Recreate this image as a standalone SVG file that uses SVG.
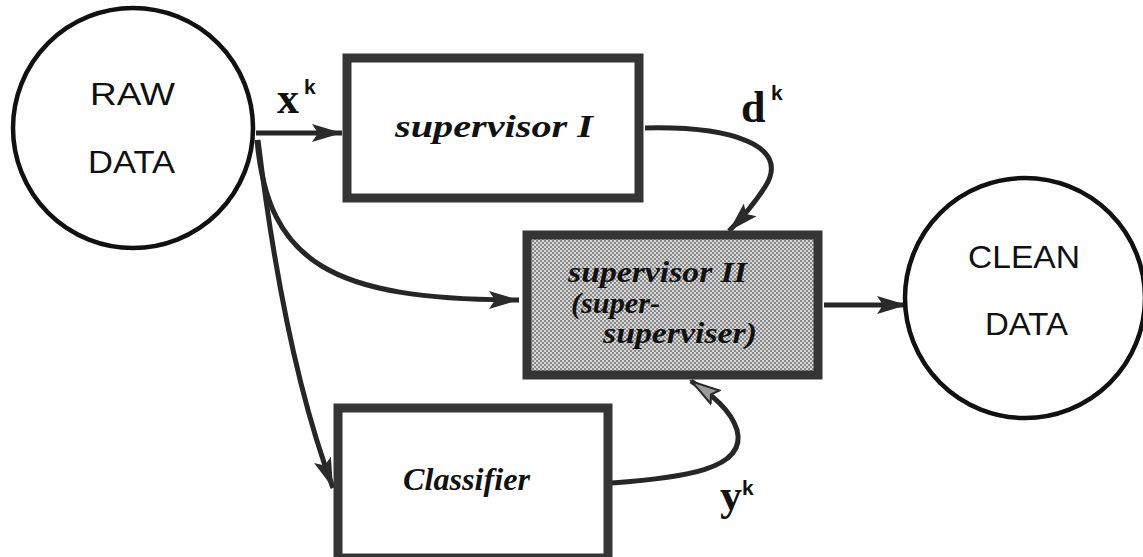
<svg xmlns="http://www.w3.org/2000/svg" width="1143" height="557" viewBox="0 0 1143 557">
  <style>
    .circle { fill: #fff; stroke: #111; stroke-width: 4.5; }
    .box { fill: #fff; stroke: #353535; stroke-width: 9; }
    .box-shaded { fill: url(#dots); stroke: #353535; stroke-width: 9; }
    .sans { font-family: "Liberation Sans", Arial, sans-serif; font-size: 32px; fill: #111; }
    .ital { font-family: "Liberation Serif", "Times New Roman", serif; font-style: italic; font-weight: bold; font-size: 31px; fill: #111; }
    .ital-sm { font-family: "Liberation Serif", "Times New Roman", serif; font-style: italic; font-weight: bold; font-size: 30px; fill: #111; }
    .var { font-family: "Liberation Serif", "Times New Roman", serif; font-weight: bold; font-size: 44px; fill: #111; }
    .sup { font-family: "Liberation Sans", Arial, sans-serif; font-weight: bold; font-size: 21px; fill: #111; }
    .wire { fill: none; stroke: #262626; stroke-width: 5; }
  </style>
  <defs>
    <pattern id="dots" width="4" height="4" patternUnits="userSpaceOnUse">
      <rect width="4" height="4" fill="#d6d6d6"/>
      <rect x="0" y="0" width="2" height="2" fill="#8a8a8a"/>
      <rect x="2" y="2" width="2" height="2" fill="#8a8a8a"/>
    </pattern>
    <marker id="head" markerUnits="userSpaceOnUse" markerWidth="32" markerHeight="22" refX="30" refY="11" orient="auto">
      <path d="M0,2 L30,11 L0,20 L6,11 Z" fill="#2a2a2a"/>
    </marker>
    <marker id="head-light" markerUnits="userSpaceOnUse" markerWidth="32" markerHeight="22" refX="30" refY="11" orient="auto">
      <path d="M1,3 L29,11 L1,19 L6,11 Z" fill="#9a9a9a" stroke="#2a2a2a" stroke-width="2"/>
    </marker>
  </defs>

  <!-- connectors -->
  <g id="connectors">
    <path class="wire" d="M256,133 L342,133" marker-end="url(#head)"/>
    <path class="wire" d="M645,128 C730,126 792,145 765,187 Q750,210 729,231" marker-end="url(#head)"/>
    <path class="wire" d="M257,140 C268,262 330,300 519,300" marker-end="url(#head)"/>
    <path class="wire" d="M258,140 C275,280 300,400 333,488" marker-end="url(#head)"/>
    <path class="wire" d="M824,305 L907,305" marker-end="url(#head)"/>
    <path class="wire" d="M612,483 C680,478 748,470 737,430 C731,410 712,395 691,381" marker-end="url(#head-light)"/>
    <!-- signal labels -->
    <text class="var" x="277" y="113">x</text>
    <text class="sup" x="304" y="94">k</text>
    <text class="var" x="741" y="122">d</text>
    <text class="sup" x="771" y="100">k</text>
    <text class="var" x="720" y="510">y</text>
    <text class="sup" x="742" y="495">k</text>
  </g>

  <g id="raw-data">
    <circle class="circle" cx="133" cy="128" r="120"/>
    <text class="sans" x="90" y="105" textLength="85" lengthAdjust="spacingAndGlyphs">RAW</text>
    <text class="sans" x="88" y="173" textLength="87" lengthAdjust="spacingAndGlyphs">DATA</text>
  </g>

  <g id="supervisor-1">
    <rect class="box" x="347" y="58" width="292" height="140"/>
    <text class="ital" x="395" y="137" textLength="198" lengthAdjust="spacingAndGlyphs">supervisor  I</text>
  </g>

  <g id="supervisor-2">
    <rect class="box-shaded" x="527" y="235" width="291" height="140"/>
    <text class="ital-sm">
      <tspan x="568" y="282" textLength="179" lengthAdjust="spacingAndGlyphs">supervisor II</tspan>
      <tspan x="571" y="313" textLength="89" lengthAdjust="spacingAndGlyphs">(super-</tspan>
      <tspan x="603" y="343" textLength="154" lengthAdjust="spacingAndGlyphs">superviser)</tspan>
    </text>
  </g>

  <g id="classifier">
    <rect class="box" x="338" y="408" width="270" height="150"/>
    <text class="ital" x="403" y="490" textLength="127" lengthAdjust="spacingAndGlyphs">Classifier</text>
  </g>

  <g id="clean-data">
    <circle class="circle" cx="1025" cy="298" r="120"/>
    <text class="sans" x="968" y="268" textLength="112" lengthAdjust="spacingAndGlyphs">CLEAN</text>
    <text class="sans" x="985" y="335" textLength="83" lengthAdjust="spacingAndGlyphs">DATA</text>
  </g>
</svg>
